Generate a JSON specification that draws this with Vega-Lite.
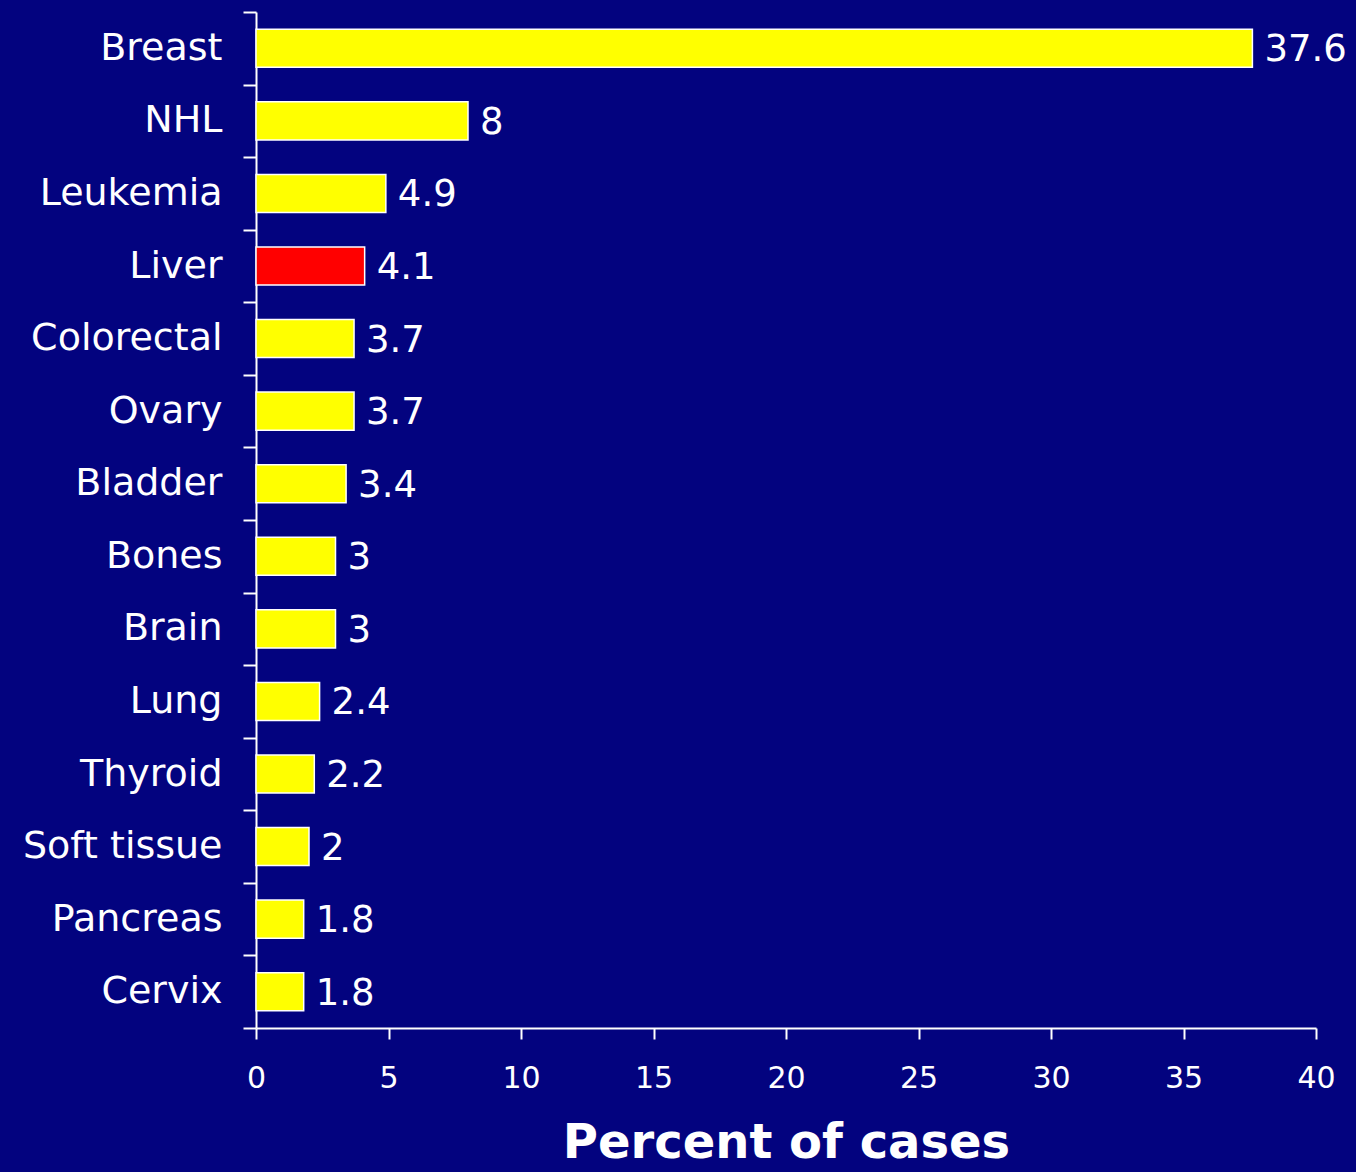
{
  "$schema": "https://vega.github.io/schema/vega-lite/v6.json",
  "width": 1060,
  "height": 1016,
  "autosize": {"type": "none"},
  "padding": {"left": 256, "top": 12, "right": 40, "bottom": 144},
  "background": "#03037f",
  "config": {
    "view": {"stroke": null},
    "font": "DejaVu Sans"
  },
  "data": {
    "values": [
      {"site": "Breast", "pct": 37.6},
      {"site": "NHL", "pct": 8},
      {"site": "Leukemia", "pct": 4.9},
      {"site": "Liver", "pct": 4.1},
      {"site": "Colorectal", "pct": 3.7},
      {"site": "Ovary", "pct": 3.7},
      {"site": "Bladder", "pct": 3.4},
      {"site": "Bones", "pct": 3},
      {"site": "Brain", "pct": 3},
      {"site": "Lung", "pct": 2.4},
      {"site": "Thyroid", "pct": 2.2},
      {"site": "Soft tissue", "pct": 2},
      {"site": "Pancreas", "pct": 1.8},
      {"site": "Cervix", "pct": 1.8}
    ]
  },
  "encoding": {
    "y": {
      "field": "site",
      "type": "nominal",
      "sort": null,
      "scale": {"paddingInner": 0, "paddingOuter": 0},
      "axis": {
        "title": null,
        "domainColor": "white",
        "domainWidth": 2,
        "tickColor": "white",
        "tickWidth": 2,
        "tickSize": 13,
        "tickBand": "extent",
        "labelColor": "white",
        "labelFontSize": 38,
        "labelPadding": 21,
        "labelLimit": 0,
        "labelFont": "DejaVu Sans",
        "grid": false
      }
    },
    "x": {
      "field": "pct",
      "type": "quantitative",
      "scale": {"domain": [0, 40], "nice": false},
      "axis": {
        "values": [0, 5, 10, 15, 20, 25, 30, 35, 40],
        "title": "Percent of cases",
        "titleColor": "white",
        "titleFontSize": 48,
        "titleFontWeight": "bold",
        "titleFont": "DejaVu Sans",
        "titlePadding": 26,
        "domainColor": "white",
        "domainWidth": 2,
        "tickColor": "white",
        "tickWidth": 2,
        "tickSize": 11,
        "labelColor": "white",
        "labelFontSize": 30,
        "labelPadding": 24,
        "labelFlush": false,
        "labelFont": "DejaVu Sans",
        "grid": false
      }
    }
  },
  "layer": [
    {
      "mark": {"type": "bar", "stroke": "white", "strokeWidth": 1.5, "height": {"band": 0.525}},
      "encoding": {
        "color": {
          "condition": {"test": "datum.site === 'Liver'", "value": "#ff0000"},
          "value": "#ffff00"
        }
      }
    },
    {
      "mark": {"type": "text", "align": "left", "baseline": "middle", "dx": 12, "dy": 2, "fontSize": 37, "color": "white", "font": "DejaVu Sans"},
      "encoding": {"text": {"field": "pct", "type": "quantitative"}}
    }
  ]
}
